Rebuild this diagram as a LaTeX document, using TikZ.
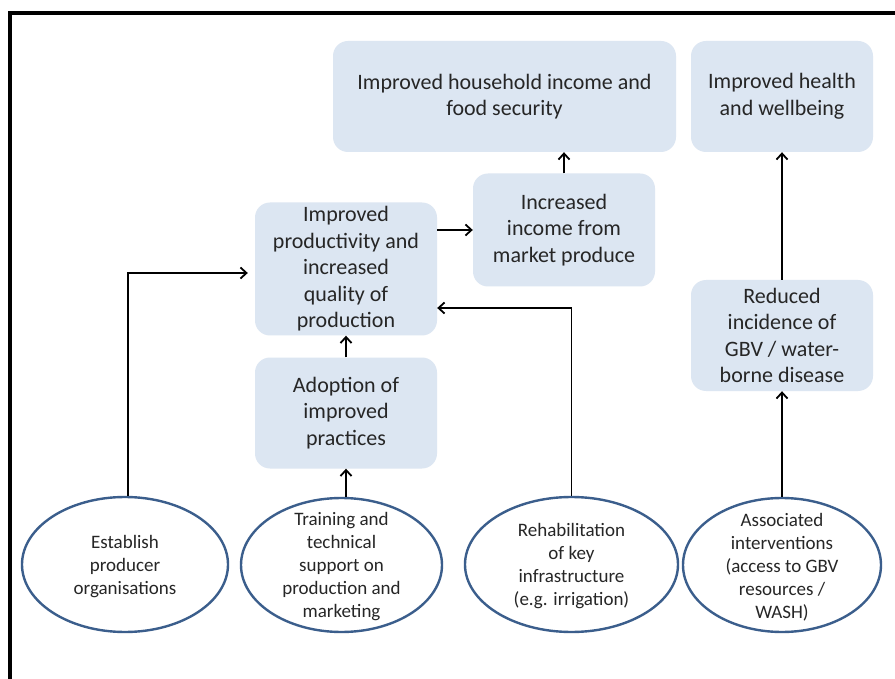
\documentclass[tikz,border=0pt]{standalone}
\usepackage{fontspec}
\setmainfont{Carlito}
\usetikzlibrary{shapes.geometric,arrows.meta}
\definecolor{boxfill}{HTML}{DCE6F2}
\definecolor{ellline}{HTML}{3B5E8C}
\definecolor{txt}{HTML}{262626}
\begin{document}
\begin{tikzpicture}[x=1pt,y=-1pt,
  outbox/.style={fill=boxfill,rounded corners=15pt,inner sep=0pt,align=center,
    text=txt,font=\fontsize{22}{26.5}\selectfont,minimum width=182pt,minimum height=111pt},
  ell/.style={ellipse,draw=ellline,line width=2.4pt,fill=white,inner sep=0pt},
  elltext/.style={align=center,text=txt,inner sep=0pt,yshift=-2pt,font=\fontsize{19}{23}\selectfont},
  arr/.style={line width=1.8pt,-{Straight Barb[length=6pt,width=11pt]}}]
\useasboundingbox (0,0) rectangle (895,679);
\fill[white] (0,0) rectangle (895,679);
\draw[line width=4pt] (10,681) -- (10,13) -- (897,13);

% boxes
\node[outbox,minimum width=343pt] (top1) at (504.5,96.5) {Improved household income and\\food security};
\node[outbox] (top2) at (782,96.5) {Improved health\\and wellbeing};
\node[outbox,minimum height=113pt] (income) at (564,230) {Increased\\income from\\market produce};
\node[outbox,minimum height=133pt] (prod) at (346,269) {Improved\\productivity and\\increased\\quality of\\production};
\node[outbox] (adopt) at (346,413) {Adoption of\\improved\\practices};
\node[outbox] (reduced) at (782,335.5) {Reduced\\incidence of\\GBV / water-\\borne disease};

% ellipses
\node[ell,minimum width=206pt,minimum height=135pt] (e1) at (125,564.5) {};
\node[elltext] (e1t) at (e1.center) {Establish\\producer\\organisations};
\node[ell,minimum width=201pt,minimum height=134pt] (e2) at (341.5,565) {};
\node[elltext] (e2t) at (e2.center) {Training and\\technical\\support on\\production and\\marketing};
\node[ell,minimum width=213pt,minimum height=135pt] (e3) at (571.5,564.5) {};
\node[elltext] (e3t) at (e3.center) {Rehabilitation\\of key\\infrastructure\\(e.g. irrigation)};
\node[ell,minimum width=198pt,minimum height=134pt] (e4) at (782,565) {};
\node[elltext] (e4t) at (e4.center) {Associated\\interventions\\(access to GBV\\resources /\\WASH)};

% connectors
\draw[arr,shorten >=7pt] ([xshift=3pt]e1.north) |- ([yshift=-4pt]prod.west);
\draw[arr] (e3.north) |- ([yshift=-39pt]prod.east);
\draw[arr] (adopt.south |- e2.north) -- (adopt.south);
\draw[arr] (adopt.north) -- (prod.south);
\draw[arr] (prod.east |- income.west) -- (income.west);
\draw[arr] (income.north) -- (income.north |- top1.south);
\draw[arr] (e4.north) -- (reduced.south);
\draw[arr] (reduced.north) -- (top2.south);
\end{tikzpicture}
\end{document}
